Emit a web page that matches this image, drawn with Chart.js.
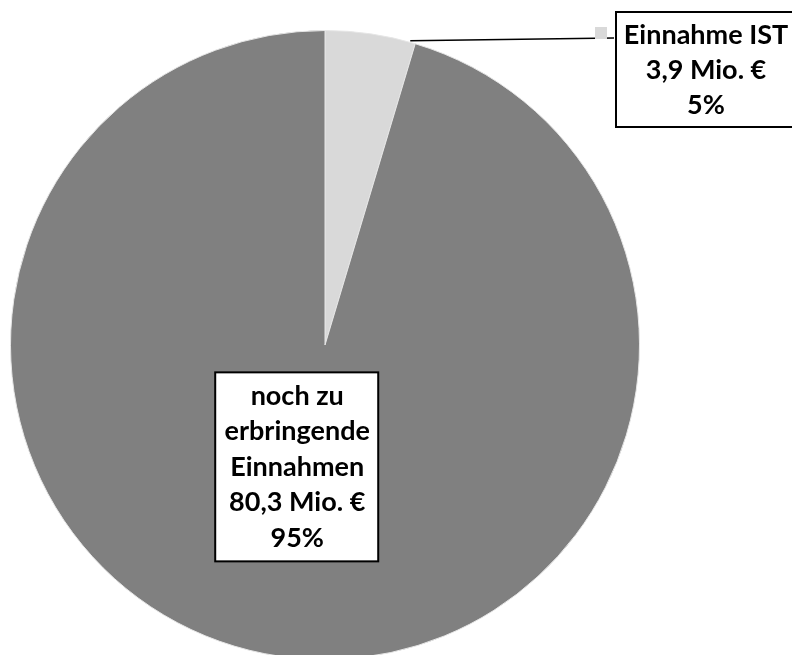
<!DOCTYPE html>
<html>
<head>
<meta charset="utf-8">
<script src="https://cdn.jsdelivr.net/npm/chart.js@4"></script>
<style>
  html, body { margin: 0; padding: 0; background: #fff; }
  #wrap { width: 792px; height: 655px; overflow: hidden; position: relative; }
  #pie { display: block; }
</style>
</head>
<body>
<div id="wrap"><canvas id="pie" width="792" height="690"></canvas></div>
<script>
  // data
  const categories = ["Einnahme IST", "noch zu erbringende Einnahmen"];
  const amounts = [3.9, 80.3];          // Mio. €
  const amountLabels = ["3,9 Mio. €", "80,3 Mio. €"];
  const percentLabels = ["5%", "95%"];
  const sliceColors = ["#d9d9d9", "#808080"];

  const FONT = "bold 27px Lato";

  function drawBox(ctx, lines, cx, top, left, right, bottom, lineH) {
    ctx.fillStyle = "#fff";
    ctx.fillRect(left, top, right - left, bottom - top);
    ctx.strokeStyle = "#000";
    ctx.lineWidth = 2;
    ctx.strokeRect(left, top, right - left, bottom - top);
    ctx.fillStyle = "#000";
    ctx.font = FONT;
    ctx.textAlign = "center";
    ctx.textBaseline = "middle";
    lines.forEach(function (t, i) {
      ctx.fillText(t, cx, top + lineH / 2 + 6 + i * lineH);
    });
  }

  const labelPlugin = {
    id: "labels",
    afterDraw: function (chart) {
      const ctx = chart.ctx;
      const arcs = chart.getDatasetMeta(0).data;
      ctx.save();

      // small slice: leader line + legend marker + box
      const a0 = arcs[0];
      const endX = a0.x + a0.outerRadius * Math.cos(a0.endAngle);
      const endY = a0.y + a0.outerRadius * Math.sin(a0.endAngle);
      ctx.strokeStyle = "#000";
      ctx.lineWidth = 1.5;
      ctx.beginPath();
      ctx.moveTo(endX - 5, endY - 3);
      ctx.lineTo(614, 38);
      ctx.stroke();
      ctx.fillStyle = sliceColors[0];
      ctx.fillRect(595, 27, 12, 12);
      drawBox(ctx, [categories[0], amountLabels[0], percentLabels[0]],
        706, 12, 616, 800, 127, 35);

      // big slice box
      const a1 = arcs[1];
      const mid = (a1.startAngle + a1.endAngle) / 2;
      const r = a1.outerRadius * 0.39;
      const bx = a1.x + r * Math.cos(mid) - 10;
      const by = a1.y + r * Math.sin(mid);
      drawBox(ctx, ["noch zu", "erbringende", "Einnahmen", amountLabels[1], percentLabels[1]],
        bx, by - 94, bx - 82, bx + 81, by + 95, 35.5);

      ctx.restore();
    }
  };

  new Chart(document.getElementById("pie").getContext("2d"), {
    type: "pie",
    data: {
      labels: categories,
      datasets: [{
        data: amounts,
        backgroundColor: sliceColors,
        borderColor: "#e6e6e6",
        borderWidth: 1
      }]
    },
    options: {
      responsive: false,
      animation: false,
      layout: { padding: { left: 10, right: 152, top: 30, bottom: 30 } },
      plugins: {
        legend: { display: false },
        tooltip: { enabled: false }
      }
    },
    plugins: [labelPlugin]
  });
</script>
</body>
</html>
